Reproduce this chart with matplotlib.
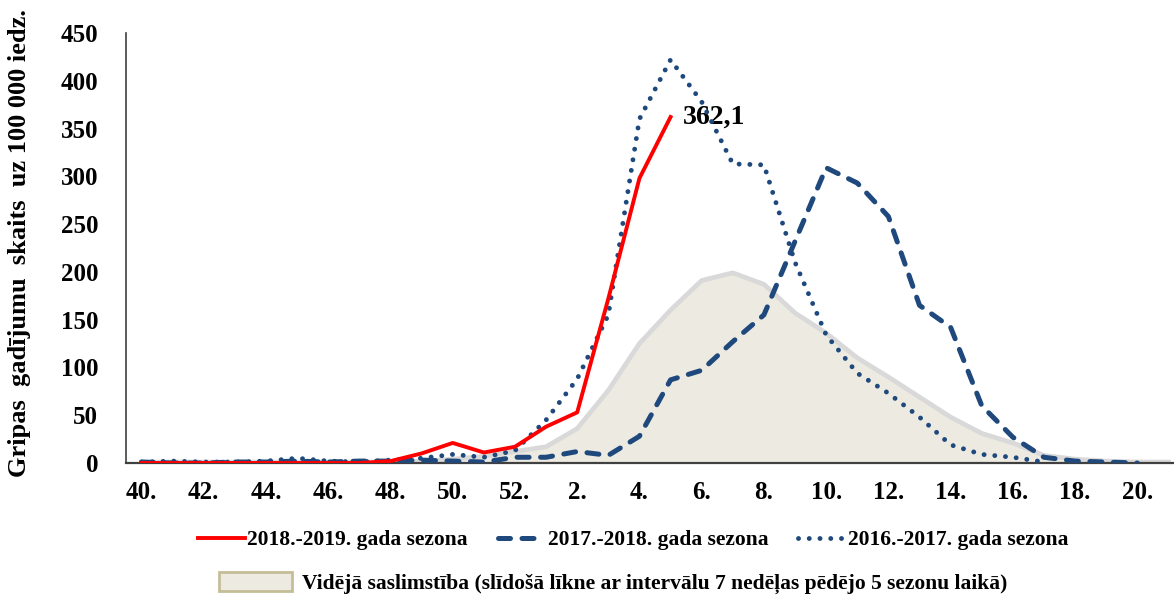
"""Gripas saslimstība: 2018.-2019. sezona pret iepriekšējām sezonām."""
import numpy as np
import matplotlib.pyplot as plt
from matplotlib.patches import Patch

plt.rcParams["font.family"] = ["Liberation Serif", "DejaVu Serif"]
plt.rcParams["font.weight"] = "bold"

# nedēļas: 40.-52. un 1.-21.
weeks = list(range(40, 53)) + list(range(1, 22))
nan = np.nan

s2018_19 = [0, 0, 0, 0, 0, 0, 0, 0, 2, 10, 21, 11, 17,
            38, 53, 172, 298, 362.1] + [nan] * 16
s2017_18 = [1, 0, 0, 1, 1, 2, 1, 2, 2, 3, 2, 1, 6,
            6, 12, 8, 28, 87, 97, 127, 155, 232, 309, 293, 258, 165, 142,
            60, 27, 6, 2, 1, 0, nan]
s2016_17 = [1, 2, 1, 1, 2, 5, 2, 1, 3, 5, 9, 6, 13,
            45, 88, 155, 360, 422, 378, 313, 312, 210, 134, 94, 73, 48, 19,
            9, 6, 1, nan, nan, nan, nan]
avg5 = [1, 1, 1, 1, 1, 1, 1, 1, 1, 2, 4, 7, 12,
        17, 36, 76, 125, 160, 191, 199, 187, 157, 136, 110, 90, 69, 48,
        31, 21, 8, 4, 2, 1, 1]

labels = ["2018.-2019. gada sezona", "2017.-2018. gada sezona",
          "2016.-2017. gada sezona",
          "Vidējā saslimstība (slīdošā līkne ar intervālu 7 nedēļas pēdējo 5 sezonu laikā)"]
ylabel = "Gripas  gadījumu  skaits  uz 100 000 iedz."

RED = "#FF0000"
BLUE = "#1F497D"
FILL = "#EDEBE1"
EDGE = "#D9D9D9"

x = np.arange(len(weeks))

fig = plt.figure(figsize=(11.74, 6.02), dpi=100)
ax = fig.add_axes([126 / 1174, 139 / 602, 1058 / 1174, 430 / 602])

ax.fill_between(x, avg5, 0, color=FILL, lw=0, zorder=1)
ax.plot(x, avg5, color=EDGE, lw=3.4, zorder=2)

ax.plot(x, s2017_18, color=BLUE, lw=3.6, dashes=(2.4, 2.3),
        dash_capstyle="round", zorder=3)
ax.plot(x, s2016_17, color=BLUE, lw=3.5, dashes=(0.01, 2.2),
        dash_capstyle="round", zorder=4)
ax.plot(x, s2018_19, color=RED, lw=2.8, zorder=5)

last = np.where(~np.isnan(s2018_19))[0][-1]
ax.annotate(f"{s2018_19[last]:.1f}".replace(".", ","), (x[last], s2018_19[last]),
            xytext=(9, 0), textcoords="offset points", va="center", ha="left",
            fontsize=20, fontweight="bold")

ax.set_xlim(-0.5, len(weeks) - 0.5)
ax.set_ylim(0, 450)
ax.set_yticks(range(0, 451, 50))
ax.set_xticks(x[::2])
ax.set_xticklabels([f"{w}." for w in weeks[::2]])
ax.tick_params(axis="both", length=0, labelsize=18)
ax.tick_params(axis="y", pad=20)
ax.tick_params(axis="x", pad=13)
for lab in ax.get_xticklabels() + ax.get_yticklabels():
    lab.set_fontweight("bold")

for side in ("top", "right"):
    ax.spines[side].set_visible(False)
ax.spines["left"].set_color("#404040")
ax.spines["left"].set_linewidth(1.2)
ax.spines["bottom"].set_color("#404040")
ax.spines["bottom"].set_linewidth(1.6)

fig.text(20 / 1174, 1 - 243 / 602, ylabel, rotation=90, ha="center", va="center",
         fontsize=19, fontweight="bold")

h = ax.get_lines()
fig.legend([h[3], h[1], h[2]], labels[:3], ncol=3, frameon=False,
           loc="center", bbox_to_anchor=(633 / 1174, 1 - 540 / 602),
           prop={"size": 15.5, "weight": "bold"}, handlelength=2.2,
           handletextpad=0.1, columnspacing=1.4)
fig.legend([Patch(facecolor=FILL, edgecolor="#C4BD97", lw=2)], labels[3:],
           frameon=False, loc="center", bbox_to_anchor=(613 / 1174, 1 - 583 / 602),
           prop={"size": 15.5, "weight": "bold"}, handlelength=3.4,
           handleheight=1.0, handletextpad=0.45)

fig.savefig("out.png", dpi=100)
